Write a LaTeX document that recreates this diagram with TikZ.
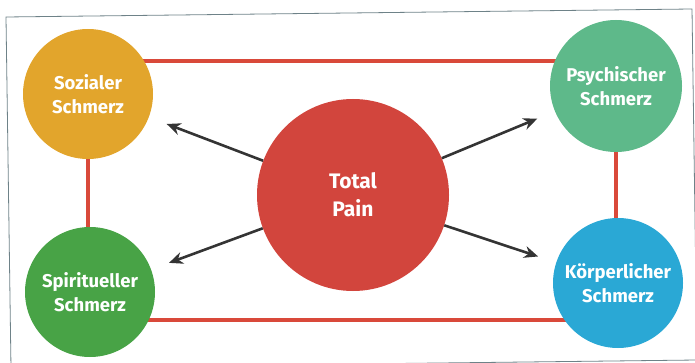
\documentclass[tikz,border=0pt]{standalone}
\usepackage{fontspec}
\setsansfont{Fira Sans}
\usepackage{tikz}
\usetikzlibrary{arrows.meta,backgrounds}

\definecolor{sozcol}{HTML}{E2A52C}
\definecolor{psycol}{HTML}{5EB98A}
\definecolor{spicol}{HTML}{48A346}
\definecolor{korcol}{HTML}{2AA8D5}
\definecolor{paincol}{HTML}{D2453D}
\definecolor{linecol}{HTML}{D9493A}
\definecolor{arrcol}{HTML}{343434}
\definecolor{framecol}{HTML}{6E8288}

\tikzset{
  pain/.style={draw=none,circle,text=white,align=center,inner sep=0pt,
    font=\sffamily\bfseries\fontsize{18.5}{24}\selectfont},
  arr/.style={draw=arrcol,line width=2.6pt,-{Stealth[length=14pt,width=12pt]},shorten >=19pt}
}

\begin{document}
\begin{tikzpicture}[x=1pt,y=-1pt]
  \useasboundingbox (0,0) rectangle (695,363);
  \draw[framecol,line width=0.8pt] (6,17) -- (692,9) -- (697,360) -- (11,368) -- cycle;
	\node[pain,fill=paincol,minimum size=192pt,font=\sffamily\bfseries\fontsize{21}{28}\selectfont] at (353,195) (TP) {Total\\Pain};
	\node[pain,fill=sozcol,minimum size=130pt] at (88,94) (SOZ) {Sozialer\\Schmerz};
	\node[pain,fill=psycol,minimum size=132pt] at (616,86) (PSY) {Psychischer\\Schmerz};
	\node[pain,fill=spicol,minimum size=130pt] at (90,292) (SPI) {Spiritueller\\Schmerz};
	\node[pain,fill=korcol,minimum size=130pt] at (618,283) (KOR) {K\"orperlicher\\Schmerz};
	\coordinate (TOP) at (0,61);
	\coordinate (BOT) at (0,320);
	\begin{scope}[on background layer]
	 \draw[linecol,line width=3.6pt] (SOZ |- TOP) -- (PSY |- TOP) -- (PSY |- BOT) -- (SOZ |- BOT) -- cycle;
	\end{scope}
	\draw[arr] (TP) -- (SOZ);
	\draw[arr] (TP) -- (PSY);
	\draw[arr] (TP) -- (SPI);
	\draw[arr] (TP) -- (KOR);
\end{tikzpicture}
\end{document}
